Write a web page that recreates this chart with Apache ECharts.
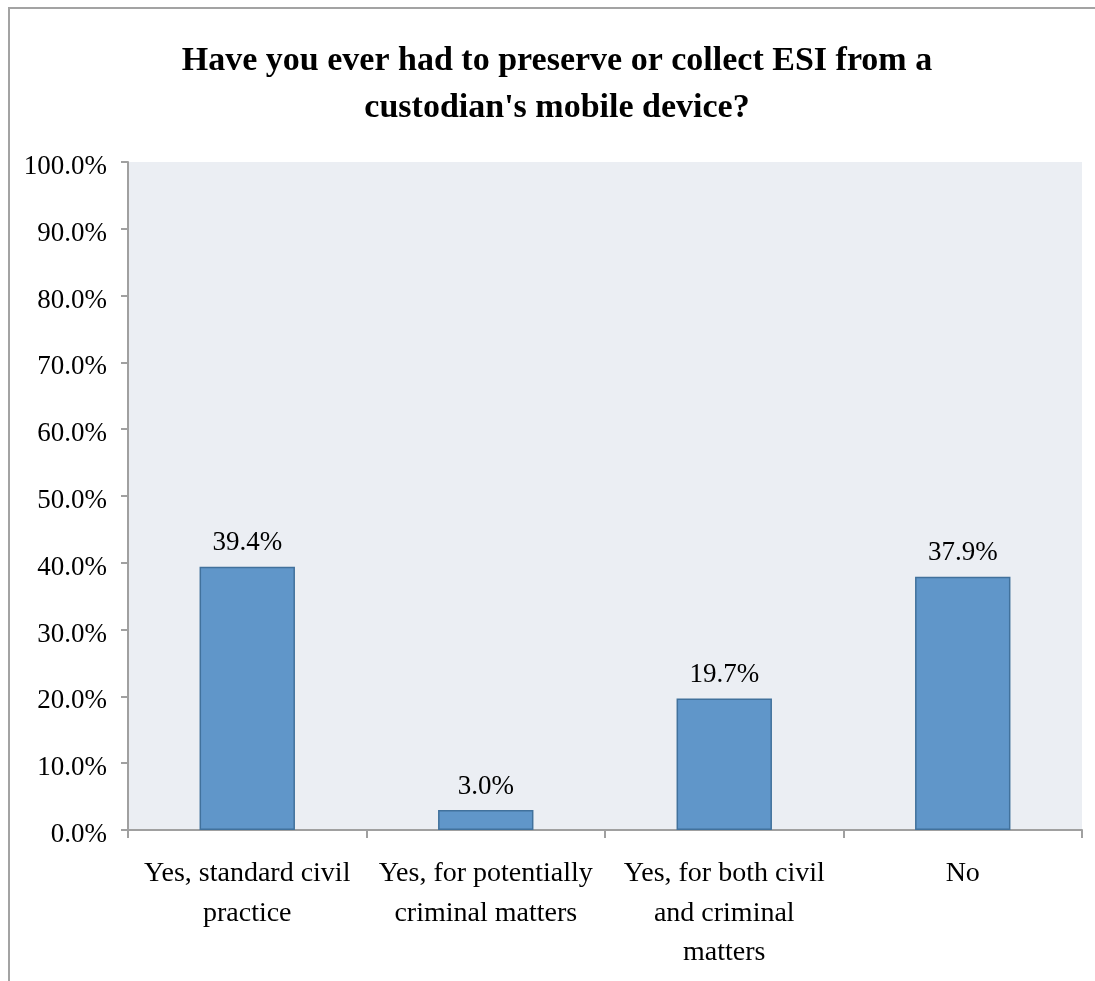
<!DOCTYPE html>
<html>
<head>
<meta charset="utf-8">
<script src="https://cdn.jsdelivr.net/npm/echarts@6/dist/echarts.min.js"></script>
<style>
html, body { margin: 0; padding: 0; background: #fff; }
.frame {
  position: absolute; left: 8px; top: 7px; width: 1200px; height: 1100px;
  border-left: 2px solid #a3a3a3; border-top: 2px solid #a3a3a3;
}
#chart { position: absolute; left: 0; top: 0; width: 1095px; height: 981px; }
</style>
</head>
<body>
<div class="frame"></div>
<div id="chart"></div>
<script>
// 数据
var categories = [
  'Yes, standard civil\npractice',
  'Yes, for potentially\ncriminal matters',
  'Yes, for both civil\nand criminal\nmatters',
  'No'
]
var percentValues = [39.4, 3.0, 19.7, 37.9]
var yTicks = { min: 0, max: 100, interval: 10 }

var serif = '"Liberation Serif", "DejaVu Serif", serif'
var chartInstance = echarts.init(document.getElementById('chart'))
var option = {
  animation: false,
  title: {
    text: "Have you ever had to preserve or collect ESI from a\ncustodian's mobile device?",
    left: 557,
    top: 38,
    padding: 0,
    textAlign: 'center',
    textStyle: {
      fontFamily: serif,
      fontWeight: 'bold',
      fontSize: 34,
      lineHeight: 47,
      color: '#000',
    },
  },
  grid: {
    show: true,
    left: 128,
    top: 162,
    right: 13,
    bottom: 151,
    backgroundColor: '#ebeef3',
    borderWidth: 0,
    containLabel: false,
  },
  xAxis: {
    type: 'category',
    data: categories,
    axisLine: { lineStyle: { color: '#a0a0a0', width: 2 } },
    axisTick: { show: true, length: 8, lineStyle: { color: '#a0a0a0', width: 2 } },
    axisLabel: {
      interval: 0,
      color: '#000',
      fontFamily: serif,
      fontSize: 28,
      lineHeight: 39.5,
      margin: 24,
    },
  },
  yAxis: {
    type: 'value',
    min: yTicks.min,
    max: yTicks.max,
    interval: yTicks.interval,
    splitLine: { show: false },
    axisLine: { show: true, lineStyle: { color: '#a0a0a0', width: 2 } },
    axisTick: { show: true, length: 7, lineStyle: { color: '#a0a0a0', width: 2 } },
    axisLabel: {
      color: '#000',
      fontFamily: serif,
      fontSize: 27,
      margin: 21,
      verticalAlign: 'top',
      lineHeight: 10,
      formatter: function (v) { return v.toFixed(1) + '%' },
    },
  },
  series: [
    {
      type: 'bar',
      data: percentValues,
      barWidth: '40%',
      itemStyle: {
        color: '#6096c9',
        borderColor: '#41719c',
        borderWidth: 1.5,
      },
      label: {
        show: true,
        position: 'top',
        distance: 10,
        color: '#000',
        fontFamily: serif,
        fontSize: 27,
        formatter: function (p) { return p.value.toFixed(1) + '%' },
      },
    },
  ],
}
chartInstance.setOption(option)
</script>
</body>
</html>
